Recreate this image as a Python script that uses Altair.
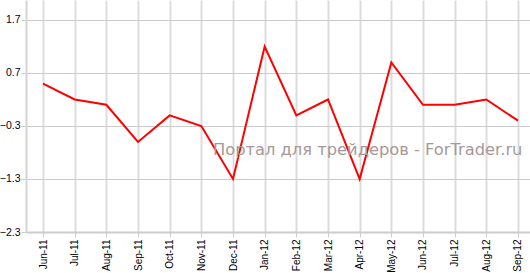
import altair as alt
import pandas as pd

months = ["Jun-11", "Jul-11", "Aug-11", "Sep-11", "Oct-11", "Nov-11", "Dec-11", "Jan-12",
          "Feb-12", "Mar-12", "Apr-12", "May-12", "Jun-12", "Jul-12", "Aug-12", "Sep-12"]
values = [0.5, 0.2, 0.1, -0.6, -0.1, -0.3, -1.3, 1.2, -0.1, 0.2, -1.3, 0.9, 0.1, 0.1, 0.2, -0.2]
y_ticks = [-2.3, -1.3, -0.3, 0.7, 1.7]
watermark = "Портал для трейдеров - ForTrader.ru"

df = pd.DataFrame({"i": list(range(len(months))), "month": months, "value": values})

label_expr = "[" + ",".join("'%s'" % m for m in months) + "][datum.value]"

x = alt.X("i:Q",
          scale=alt.Scale(domain=[-0.537, 15.379], nice=False, zero=False),
          axis=alt.Axis(values=list(range(len(months))), labelExpr=label_expr,
                        labelAngle=-90, labelAlign="right", labelBaseline="middle",
                        labelFont="Liberation Sans", labelFontSize=10, labelColor="#000000",
                        labelPadding=2, tickSize=5, tickColor="#cccccc",
                        domainColor="#cccccc", domainWidth=2,
                        grid=True, gridColor="#dcdcdc", gridWidth=2, title=None))
y = alt.Y("value:Q",
          scale=alt.Scale(domain=[-2.3, 2.077], nice=False, zero=False),
          axis=alt.Axis(values=y_ticks, format=".1f",
                        labelFont="Liberation Sans", labelFontSize=10.5, labelColor="#000022",
                        labelPadding=1, tickSize=5, tickColor="#cccccc",
                        domainColor="#d4d4d4", domainWidth=2,
                        grid=True, gridColor="#cccccc", gridWidth=1, title=None))

line = alt.Chart(df).mark_line(color="#ff0000", strokeWidth=2).encode(x=x, y=y)

wm = alt.Chart(pd.DataFrame({"t": [watermark]})).mark_text(
    align="left", baseline="alphabetic", font="DejaVu Sans", fontSize=16.3, color="#a89898"
).encode(x=alt.value(187), y=alt.value(155), text="t:N")

chart = (line + wm).properties(
    width=504, height=232,
    padding={"left": 26, "top": 0, "right": 0, "bottom": 41},
    autosize=alt.AutoSizeParams(type="none"),
    background="#ffffff",
).configure_view(stroke=None)

chart.save("out.html", embed_options={"renderer": "svg", "actions": False})
